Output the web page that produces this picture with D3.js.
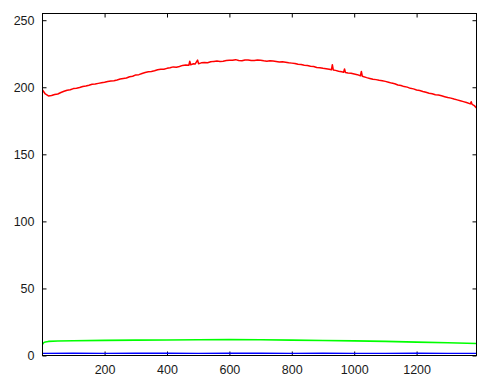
<!DOCTYPE html>
<html>
<head>
<meta charset="utf-8">
<script src="https://cdn.jsdelivr.net/npm/d3@7"></script>
<style>
  body { margin: 0; background: #fff; }
  svg { display: block; }
  .tick text { font-family: "Liberation Sans", Arial, sans-serif; font-size: 12.5px; fill: #1a1a1a; }
</style>
</head>
<body>
<svg id="chart" width="489" height="391"></svg>
<script>
// pixel position (column index) along the sensor line
const redX = [1, 10, 20, 30, 40, 50, 60, 70, 80, 90, 100, 110, 120, 130, 140, 150, 160, 170, 180, 190, 200,
  210, 220, 230, 240, 250, 260, 270, 280, 290, 300, 310, 320, 330, 340, 350, 360, 370, 380, 390, 400,
  410, 420, 430, 440, 450, 460, 470, 473, 476, 485, 490, 498, 501, 510, 520, 530, 540, 550, 560, 570,
  580, 590, 600, 610, 620, 630, 640, 650, 660, 670, 680, 690, 700, 710, 720, 730, 740, 750, 760, 770,
  780, 790, 800, 810, 820, 830, 840, 850, 860, 870, 880, 890, 900, 910, 920, 927, 930, 933, 940, 950,
  960, 966, 969, 972, 980, 990, 1000, 1010, 1020, 1023, 1026, 1040, 1050, 1060, 1070, 1080, 1090, 1100,
  1110, 1120, 1130, 1140, 1150, 1160, 1170, 1180, 1190, 1200, 1210, 1220, 1230, 1240, 1250, 1260, 1270,
  1280, 1290, 1300, 1310, 1320, 1330, 1340, 1350, 1360, 1372, 1375, 1378, 1385, 1392];
const redY = [198, 195, 193.5, 193.8, 194.6, 195, 196.1, 197, 197.8, 198.1, 199, 199.3, 199.8, 200.6,
  201, 201.5, 202.2, 202.4, 202.9, 203.3, 203.7, 204.3, 204.6, 204.9, 205.4, 206.1, 206.6, 206.9, 207.8,
  208.2, 209.2, 209.4, 210.3, 211, 211.5, 211.8, 212.3, 213, 213.5, 213.5, 214.1, 214.6, 215.2, 215,
  215.5, 216.3, 216.6, 216.4, 219.4, 216.8, 217.5, 217.3, 220.3, 217.6, 218.2, 218.5, 218.3, 219, 219.3,
  219.5, 219.2, 219.4, 219.9, 220.1, 220.2, 220.6, 219.9, 219.8, 220.4, 220.4, 219.9, 220, 220.3, 220.2,
  219.7, 219.4, 219.8, 219.5, 219.2, 218.9, 219, 218.6, 218.2, 218, 217.7, 217.1, 216.9, 216.4, 216.2,
  215.6, 215.5, 214.8, 214.5, 214.1, 213.8, 213.4, 213, 216.8, 212.9, 212.6, 212, 211.5, 211.2, 213.6,
  211, 210.7, 210.4, 209.9, 209.4, 208.6, 211.8, 208.2, 207.2, 206.6, 206, 205.7, 205.2, 204.9, 204.4,
  203.8, 203.1, 202.6, 201.7, 201.3, 200.5, 200.1, 199.2, 198.8, 198, 197.6, 196.9, 196.3, 195.6, 195.2,
  194.4, 194.2, 193.6, 193, 192.4, 191.9, 191.2, 190.6, 190, 189.3, 188.6, 187.6, 189.2, 187.2, 186.3, 184.6];

const greenX = [1, 5, 10, 20, 50, 100, 200, 300, 400, 500, 600, 700, 800, 900, 1000, 1100, 1200, 1300, 1392];
const greenY = [8.3, 9.6, 10.1, 10.5, 10.8, 11, 11.3, 11.5, 11.6, 11.7, 11.8, 11.7, 11.5, 11.2, 10.9, 10.5, 10, 9.5, 9];

const blueX = [1, 100, 200, 300, 400, 500, 600, 700, 800, 900, 1000, 1100, 1200, 1300, 1392];
const blueY = [1.6, 1.7, 1.6, 1.7, 1.7, 1.6, 1.7, 1.7, 1.6, 1.7, 1.6, 1.6, 1.7, 1.6, 1.6];

const xTicks = [200, 400, 600, 800, 1000, 1200];
const yTicks = [0, 50, 100, 150, 200, 250];

const svg = d3.select("#chart"),
      margin = { top: 13.5, left: 42.5 },
      width = 434,
      height = 342;

const g = svg.append("g")
  .attr("transform", `translate(${margin.left},${margin.top})`);

const x = d3.scaleLinear().domain([1, 1392]).range([0, width]);
const y = d3.scaleLinear().domain([0, 255]).range([height, 0]);

// axes, ticks pointing inward on all four sides
const axBottom = g.append("g")
  .attr("transform", `translate(0,${height})`)
  .call(d3.axisBottom(x).tickValues(xTicks).tickFormat(d3.format("d"))
    .tickSizeInner(-4).tickSizeOuter(0).tickPadding(10));
const axTop = g.append("g")
  .call(d3.axisTop(x).tickValues(xTicks).tickSizeInner(-4).tickSizeOuter(0).tickFormat(""));
const axLeft = g.append("g")
  .call(d3.axisLeft(y).tickValues(yTicks).tickFormat(d3.format("d"))
    .tickSizeInner(-4).tickSizeOuter(0).tickPadding(8));
const axRight = g.append("g")
  .attr("transform", `translate(${width},0)`)
  .call(d3.axisRight(y).tickValues(yTicks).tickSizeInner(-4).tickSizeOuter(0).tickFormat(""));

[axBottom, axTop, axLeft, axRight].forEach(a => {
  a.select(".domain").remove();
  a.selectAll("line").attr("stroke", "#000");
});

const line = d3.line().x(d => x(d[0])).y(d => y(d[1]));

function drawSeries(xs, ys, color, w) {
  g.append("path")
    .datum(xs.map((v, i) => [v, ys[i]]))
    .attr("fill", "none")
    .attr("stroke", color)
    .attr("stroke-width", w)
    .attr("stroke-linejoin", "round")
    .attr("d", line);
}

drawSeries(blueX, blueY, "#0000ff", 1.4);
drawSeries(greenX, greenY, "#00ff00", 1.6);
drawSeries(redX, redY, "#ff0000", 1.5);

// frame
g.append("rect")
  .attr("width", width)
  .attr("height", height)
  .attr("fill", "none")
  .attr("stroke", "#000")
  .attr("stroke-width", 1);
</script>
</body>
</html>
